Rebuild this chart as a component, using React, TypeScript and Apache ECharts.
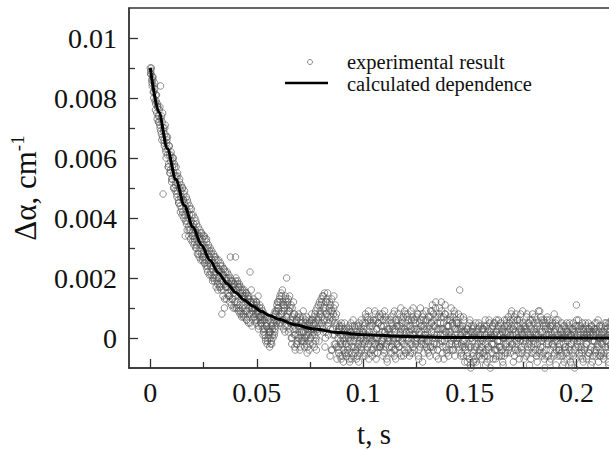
import React, { useEffect, useRef } from "react";
import * as echarts from "echarts";

// ---- data ----
// experimental points: values in units of 1e-4 cm^-1; three interleaved sample runs,
// each sampled every STEP seconds, split into 0.04 s segments
const UNIT = 1e-4;
const STEP = 0.0004;
const startsA = [0, 0.04, 0.08, 0.12, 0.16, 0.2];
const startsB = [0.0002, 0.0402, 0.0802, 0.1202, 0.1602, 0.2002];
const startsC = [0.0001, 0.0401, 0.0801, 0.1201, 0.1601, 0.2001];

const runA1 = [
  90, 88, 85, 86, 80, 83, 76, 79, 73, 77,
  74, 71, 84, 68, 72, 48, 66, 70, 63, 67,
  61, 57, 64, 55, 59, 52, 57, 60, 50, 54,
  52, 48, 55, 46, 50, 44, 49, 47, 42, 46,
  45, 34, 43, 39, 42, 37, 41, 36, 39, 35,
  34, 38, 33, 36, 30, 35, 32, 29, 34, 31,
  28, 33, 27, 31, 25, 30, 33, 24, 28, 26,
  27, 22, 26, 19, 24, 21, 26, 20, 23, 18,
  20, 23, 17, 22, 8, 19, 21, 10, 20, 17,
  19, 15, 18, 14, 27, 16, 13, 17, 15, 12,
];
const runA2 = [
  27, 16, 12, 17, 14, 11, 15, 13, 10, 14,
  11, 14, 9, 6, 12, 13, 10, 22, 8, 12,
  9, 12, 7, 10, 5, 11, 8, 3, 9, 6,
  7, 4, 9, 2, 6, 0, 5, -2, 3, 1,
  -3, 2, -1, 4, 0, 6, 2, 8, 5, 10,
  12, 7, 14, 4, 9, 16, 6, 11, 2, 13,
  20, 8, 13, 3, 10, 5, -2, 7, 12, 1,
  -4, 3, 6, -1, 8, 2, -3, 5, 0, 7,
  2, -3, 5, 1, -5, 4, -1, 6, 0, 3,
  4, -2, 7, 1, 9, -4, 3, 6, -1, 8,
];
const runA3 = [
  11, 5, 14, 2, 9, -3, 12, 6, 15, 1,
  10, -6, 7, 13, 3, 8, -2, 11, 4, -7,
  2, -5, 4, -1, -7, 3, 0, -4, 5, -2,
  -6, 1, -3, 4, -8, 0, 2, -5, 6, -1,
  -3, 3, -7, 0, -2, 5, -5, 1, -4, 2,
  -1, 4, -6, 7, 0, -3, 9, 2, -5, 5,
  1, -4, 6, -2, 8, -7, 3, 0, 5, -3,
  7, -1, 2, -6, 4, 9, -3, 1, -8, 6,
  0, 3, -5, 5, -2, 8, -4, 2, -7, 4,
  -2, 6, 1, -5, 10, 3, -1, 7, -4, 2,
];
const runA4 = [
  5, -3, 8, 0, -6, 4, 9, -2, 1, 6,
  -4, 2, 7, -1, 3, -7, 5, 10, -2, 0,
  8, -5, 3, 1, -3, 6, -1, 4, -6, 9,
  2, 11, -4, 6, 0, 12, -2, 5, -7, 8,
  3, -1, 9, -5, 7, 1, 11, -3, 4, 0,
  -6, 6, 2, 10, -2, 4, -4, 8, 1, -1,
  5, 3, -3, 16, 7, -5, 2, -1, 6, -8,
  -4, 1, -8, 4, -2, 6, -10, 0, 3, -6,
  2, -7, 5, -3, -9, 1, 4, -5, 0, -2,
  -1, 3, -6, 6, -4, -8, 2, -3, 5, -10,
];
const runA5 = [
  0, -5, 4, -2, 1, -7, 6, -4, -1, 3,
  -3, 5, -6, 2, -9, 0, 4, -2, 6, -5,
  7, -1, 3, -5, 9, 1, -8, 4, -3, 8,
  -2, 6, 0, -7, 5, 2, -4, 9, -1, 3,
  4, -6, 8, -3, 1, -9, 6, 0, -5, 2,
  -1, 7, -4, 3, -8, 5, 0, 9, -3, 6,
  2, -5, 6, -10, 4, -2, 7, -6, 1, 3,
  -7, 1, 5, -3, 8, -1, -9, 4, 0, -4,
  3, -6, 1, 5, -9, -2, 4, -4, 0, -7,
  2, -3, 5, -8, 1, -5, 3, -1, -10, 4,
];
const runA6 = [
  11, -2, 0, 4, -6, 2, -4, 5, -8, 1,
  -3, 3, -7, 0, 5, -5, 2, -9, 4, -1,
  1, -4, 5, -6, 3, -2, -8, 2, 0, -5,
  4, -1, -7, 3, -3, 5, -5, 1, -9, 2,
  -2, 6, 0, -6, 3, -4, 1, -8, 4, -1,
  2,
];

const runB1 = [
  89, 86, 87, 82, 84, 79, 81, 75, 78, 72,
  76, 70, 73, 66, 75, 69, 64, 71, 60, 66,
  63, 58, 61, 56, 62, 53, 59, 55, 57, 51,
  54, 49, 51, 45, 53, 47, 43, 50, 46, 48,
  41, 44, 38, 46, 40, 36, 43, 38, 41, 34,
  37, 32, 35, 39, 31, 34, 28, 33, 30, 35,
  31, 27, 29, 34, 26, 28, 23, 30, 25, 29,
  24, 28, 23, 25, 20, 27, 22, 24, 19, 23,
  22, 18, 24, 19, 21, 16, 23, 18, 17, 20,
  17, 20, 14, 18, 16, 19, 13, 16, 18, 14,
];
const runB2 = [
  20, 11, 19, 10, 18, 9, 17, 8, 16, 8,
  13, 10, 15, 9, 11, 14, 8, 12, 16, 10,
  8, 13, 10, 6, 12, 9, 14, 7, 11, 5,
  10, 6, 3, 8, 1, 7, 4, -1, 6, 2,
  0, 5, -2, 3, 7, 1, 9, 4, 11, 6,
  9, 13, 5, 15, 8, 12, 3, 10, 14, 7,
  11, 4, 9, 14, 6, 0, 10, 3, 8, -3,
  5, -2, 7, 1, 4, -4, 6, 2, -1, 9,
  -1, 4, 0, 7, -3, 2, 5, -2, 3, 8,
  6, 2, -3, 5, 0, 10, 3, 7, 12, 4,
];
const runB3 = [
  13, 7, 3, 10, 15, 0, 8, 12, 4, 9,
  6, 11, -4, 9, 1, 14, 5, -2, 8, 2,
  -3, 3, -6, 1, 4, -2, -8, 2, -5, 0,
  3, -4, 0, -7, 2, 5, -3, 1, -6, 4,
  -5, 1, 4, -3, -8, 2, 0, 6, -2, -6,
  3, -2, 8, 1, -4, 6, -7, 4, 0, -1,
  -6, 5, 0, 9, -2, 3, -5, 7, 1, -3,
  4, -2, 8, 0, -5, 2, 6, -7, 3, -1,
  -3, 6, 1, -5, 3, -1, 9, -4, 5, 0,
  8, -3, 4, 2, -6, 6, 0, -2, 9, -5,
];
const runB4 = [
  2, 7, -4, 4, 1, -2, 6, -5, 10, 3,
  -1, 5, 0, 8, -6, 2, -3, 6, 4, -8,
  6, 1, -2, 9, 3, -4, 7, 0, -3, 5,
  9, -3, 4, 1, 10, -6, 3, 7, 0, -2,
  5, 12, -1, 3, -7, 8, 2, -4, 6, 1,
  2, -4, 7, -1, 5, 0, 9, -6, 3, 6,
  -2, 8, 0, 4, -6, 3, -3, 7, -1, 2,
  1, -6, 3, -3, 5, -9, 0, 2, -5, 4,
  -4, 0, -8, 2, -2, 5, -6, 1, -3, 3,
  3, -5, 1, -9, 4, 0, -3, 6, -7, 1,
];
const runB5 = [
  -2, 4, -7, 1, 5, -4, 2, -1, 6, -6,
  1, -3, 3, -8, 0, 6, -5, 2, -2, 4,
  -4, 5, 1, 8, -2, 3, 6, -6, 2, -1,
  6, 0, -5, 3, 8, -3, 1, 5, -7, 2,
  -1, 7, 2, -4, 5, 0, -7, 3, 8, -2,
  3, -5, 1, 6, -2, 9, -4, 2, 0, -6,
  5, 0, -7, 3, -4, 6, -1, 2, -8, 4,
  0, 4, -2, -6, 2, 5, -4, 1, 6, -3,
  -2, 2, -5, 0, 4, -8, 1, -3, 5, -1,
  1, -6, 3, -2, -9, 2, 5, -4, 0, -7,
];
const runB6 = [
  4, -1, 6, -5, 1, -3, 3, -7, 2, 0,
  5, -2, 1, -6, 3, 0, -4, 4, -8, 2,
  -1, 3, -5, 2, -3, 6, 0, -6, 3, -2,
  0, -6, 2, 5, -1, -4, 3, -8, 1, 4,
  -3, 1, 4, -2, -7, 2, 5, -4, 0, 3,
];

const runC1 = [
  88, 90, 84, 87, 82, 85, 78, 81, 77, 74,
  72, 77, 69, 74, 67, 70, 65, 68, 62, 65,
  67, 57, 64, 55, 61, 53, 60, 50, 58, 49,
  57, 47, 54, 45, 52, 42, 51, 41, 50, 40,
  49, 39, 47, 36, 45, 34, 44, 33, 43, 32,
  41, 31, 40, 30, 38, 28, 37, 27, 36, 26,
  35, 26, 34, 25, 33, 24, 32, 22, 31, 21,
  30, 21, 29, 20, 28, 19, 27, 17, 26, 16,
  26, 17, 25, 16, 24, 14, 23, 13, 22, 13,
  22, 14, 21, 12, 20, 11, 19, 10, 18, 10,
];
const runC2 = [
  19, 10, 18, 9, 17, 8, 16, 7, 15, 7,
  16, 7, 15, 6, 14, 5, 13, 5, 12, 4,
  10, 7, 11, 8, 12, 6, 9, 4, 10, 7,
  5, 8, 1, 6, 3, -1, 4, 7, 0, 3,
  2, -2, 4, 1, 5, 8, 3, 6, 9, 12,
  10, 5, 12, 8, 14, 6, 11, 9, 4, 12,
  7, 12, 2, 9, 5, 11, 0, 6, 4, 8,
  1, 6, -2, 4, 0, 7, 3, -1, 5, 2,
  4, 0, 6, -2, 3, 1, -4, 5, 2, 6,
  1, 5, 3, 8, -1, 6, 2, 11, 5, 9,
];
const runC3 = [
  8, 12, 4, 14, 6, 10, 2, 13, 7, 5,
  12, 3, 9, -4, 6, 10, 1, 7, -3, 5,
  0, -4, 3, -2, 5, -6, 1, -1, 3, -5,
  -2, 2, -5, 3, -1, 1, -7, 4, -3, 0,
  1, -4, 2, -6, 4, -1, 3, -3, 0, 5,
  2, -5, 5, -1, 3, 7, -2, 0, 6, -4,
  4, -1, 2, -5, 6, 0, -3, 5, -2, 8,
  -3, 4, -1, 6, -4, 2, 7, -2, 0, 3,
  2, -1, 7, -3, 4, 0, -6, 3, 6, -2,
  4, 0, -3, 7, -1, 5, 2, -6, 3, 8,
];
const runC4 = [
  0, 4, -1, 6, 2, -5, 3, 7, -3, 1,
  6, -2, 3, 0, 8, -4, 1, 4, -1, 7,
  -2, 4, 0, 6, -1, 2, -5, 3, 7, -3,
  5, 0, 8, -2, 4, 7, 1, -4, 3, 10,
  1, 7, 3, -3, 5, -1, 8, 2, -5, 4,
  4, -2, 6, 1, -4, 7, 0, 3, -2, 5,
  0, 5, -4, 3, 1, -2, 4, -6, 2, -3,
  -2, 3, -5, 1, -7, 2, -3, 4, -1, -8,
  1, -3, 2, -6, 0, 3, -4, -1, 4, -7,
  -5, 0, 4, -2, 1, -6, 3, -4, 0, 2,
];
const runC5 = [
  3, -2, 0, 5, -4, 2, -6, 1, 4, -3,
  -1, 4, -4, 0, 3, -6, 2, -3, 5, 1,
  2, -3, 6, 0, 4, -2, 3, 7, -4, 1,
  4, -4, 2, 6, -1, 3, -5, 2, 4, -2,
  0, 3, -5, 5, -2, 4, 1, -3, 6, 0,
  5, -2, 2, -6, 4, 1, -5, 3, 7, -1,
  -3, 4, 0, 5, -6, 1, 3, -2, 6, -4,
  2, -2, 4, 0, -5, 3, 6, -1, -6, 1,
  -4, 0, 3, -6, 2, 0, -3, 3, -5, 2,
  0, 4, -4, 1, -2, 3, -6, 2, 1, -3,
];
const runC6 = [
  6, 1, -3, 3, -1, 4, -5, 0, 3, -4,
  0, 4, -2, 2, -5, 3, 1, -3, 2, -6,
  3, -1, 2, -4, 5, 0, -3, 4, -6, 1,
  -2, 2, -5, 0, 4, -1, 2, -3, 5, -6,
  1, -3, 3, 0, -5, 4, -2, 2, -1, 3,
];

const runsA = [runA1, runA2, runA3, runA4, runA5, runA6];
const runsB = [runB1, runB2, runB3, runB4, runB5, runB6];
const runsC = [runC1, runC2, runC3, runC4, runC5, runC6];

// calculated dependence
const curveT = [0, 0.004, 0.008, 0.012, 0.016, 0.02, 0.024, 0.028, 0.032, 0.036, 0.04, 0.044, 0.048, 0.052, 0.056, 0.06, 0.068, 0.076, 0.088, 0.1, 0.12, 0.14, 0.17, 0.2, 0.22];
const curveV = [0.009, 0.00753, 0.00631, 0.00528, 0.00442, 0.0037, 0.0031, 0.00259, 0.00217, 0.00182, 0.00152, 0.00127, 0.00107, 0.00089, 0.00075, 0.00063, 0.00044, 0.00031, 0.00018, 0.00011, 0.00005, 0.00002, 0.00001, 0, 0];

// axis ticks
const xTicks = [0, 0.05, 0.1, 0.15, 0.2];
const xTickLabels = ["0", "0.05", "0.1", "0.15", "0.2"];
const xMinor = [0.025, 0.075, 0.125, 0.175];
const yTicks = [0, 0.002, 0.004, 0.006, 0.008, 0.01];
const yTickLabels = ["0", "0.002", "0.004", "0.006", "0.008", "0.01"];
const yMinor = [0.001, 0.003, 0.005, 0.007, 0.009];

const legendNames = ["experimental result", "calculated dependence"];

const FONT = "'Liberation Serif', 'Times New Roman', serif";
const AXIS_COLOR = "#333";

function labelFor(ticks: number[], labels: string[]) {
  return (v: number) => {
    const i = ticks.findIndex((t) => Math.abs(t - v) < 1e-9);
    return i >= 0 ? labels[i] : "";
  };
}

function pushRuns(out: number[][], runs: number[][], starts: number[]) {
  runs.forEach((seg, s) => {
    seg.forEach((v, i) => {
      out.push([starts[s] + i * STEP, v * UNIT]);
    });
  });
}

export default function App() {
  const ref = useRef<HTMLDivElement>(null);

  useEffect(() => {
    if (!ref.current) return;
    const chart = echarts.init(ref.current, undefined, { renderer: "svg" });

    const scatterData: number[][] = [];
    pushRuns(scatterData, runsA, startsA);
    pushRuns(scatterData, runsB, startsB);
    pushRuns(scatterData, runsC, startsC);
    const curveData = curveT.map((t, i) => [t, curveV[i]]);

    const xMin = -0.01;
    const xMax = 0.22;
    const yMin = -0.001;
    const yMax = 0.011;

    chart.setOption({
      animation: false,
      backgroundColor: "#fff",
      grid: {
        left: 129,
        top: 8,
        right: 21,
        bottom: 82,
        containLabel: false,
        outerBoundsMode: "none",
        show: true,
        borderColor: AXIS_COLOR,
        borderWidth: 1.3,
        backgroundColor: "transparent",
      },
      xAxis: [
        {
          type: "value",
          min: xMin,
          max: xMax,
          axisLine: { show: true, onZero: false, lineStyle: { color: AXIS_COLOR, width: 1.5 } },
          axisTick: { show: true, inside: true, length: 9, customValues: xTicks, lineStyle: { color: AXIS_COLOR, width: 1.3 } },
          axisLabel: {
            customValues: xTicks,
            formatter: labelFor(xTicks, xTickLabels),
            fontSize: 28,
            fontFamily: FONT,
            color: "#111",
            margin: 10,
          },
          splitLine: { show: false },
          name: "t, s",
          nameLocation: "middle",
          nameGap: 52,
          nameTextStyle: { fontSize: 29, lineHeight: 28, fontFamily: FONT, color: "#111" },
        },
        {
          type: "value",
          min: xMin,
          max: xMax,
          position: "bottom",
          axisLine: { show: false, onZero: false },
          axisTick: { show: true, inside: true, length: 6, customValues: xMinor, lineStyle: { color: AXIS_COLOR, width: 1.3 } },
          axisLabel: { show: false },
          splitLine: { show: false },
        },
      ],
      yAxis: [
        {
          type: "value",
          min: yMin,
          max: yMax,
          axisLine: { show: true, onZero: false, lineStyle: { color: AXIS_COLOR, width: 1.5 } },
          axisTick: { show: true, inside: true, length: 9, customValues: yTicks, lineStyle: { color: AXIS_COLOR, width: 1.3 } },
          axisLabel: {
            customValues: yTicks,
            formatter: labelFor(yTicks, yTickLabels),
            fontSize: 28,
            fontFamily: FONT,
            color: "#111",
            margin: 12,
          },
          splitLine: { show: false },
          name: "{m|Δα, cm}{s|-1}",
          nameLocation: "middle",
          nameRotate: 90,
          nameGap: 87,
          nameTextStyle: {
            rich: {
              m: { fontSize: 31, fontFamily: FONT, color: "#111", lineHeight: 34 },
              s: { fontSize: 19, fontFamily: FONT, color: "#111", verticalAlign: "top", lineHeight: 20 },
            },
          },
        },
        {
          type: "value",
          min: yMin,
          max: yMax,
          position: "left",
          axisLine: { show: false, onZero: false },
          axisTick: { show: true, inside: true, length: 6, customValues: yMinor, lineStyle: { color: AXIS_COLOR, width: 1.3 } },
          axisLabel: { show: false },
          splitLine: { show: false },
        },
      ],
      series: [
        {
          type: "scatter",
          name: legendNames[0],
          xAxisIndex: 0,
          yAxisIndex: 0,
          data: scatterData,
          symbol: "circle",
          symbolSize: 6.5,
          itemStyle: { color: "rgba(0,0,0,0)", borderColor: "rgba(85,85,85,0.8)", borderWidth: 1 },
          emphasis: { disabled: true },
          z: 2,
        },
        {
          type: "line",
          name: legendNames[1],
          xAxisIndex: 0,
          yAxisIndex: 0,
          data: curveData,
          showSymbol: false,
          smooth: 0.3,
          smoothMonotone: "x",
          lineStyle: { color: "#000", width: 3 },
          emphasis: { disabled: true },
          z: 3,
        },
      ],
      graphic: [
        { type: "circle", shape: { cx: 310, cy: 62, r: 2.5 }, style: { fill: "none", stroke: "#888", lineWidth: 1 } },
        { type: "line", shape: { x1: 285, y1: 83, x2: 328, y2: 83 }, style: { stroke: "#000", lineWidth: 2.5 } },
        {
          type: "text",
          x: 347,
          y: 61.5,
          style: { text: legendNames[0], font: `20.5px ${FONT}`, fill: "#111", verticalAlign: "middle", align: "left" },
        },
        {
          type: "text",
          x: 347,
          y: 83.5,
          style: { text: legendNames[1], font: `20.5px ${FONT}`, fill: "#111", verticalAlign: "middle", align: "left" },
        },
      ],
    });

    return () => chart.dispose();
  }, []);

  return (
    <div style={{ position: "absolute", left: 0, top: 0, width: 609, height: 450, overflow: "hidden", background: "#fff" }}>
      <div ref={ref} style={{ width: 640, height: 450 }} />
    </div>
  );
}
